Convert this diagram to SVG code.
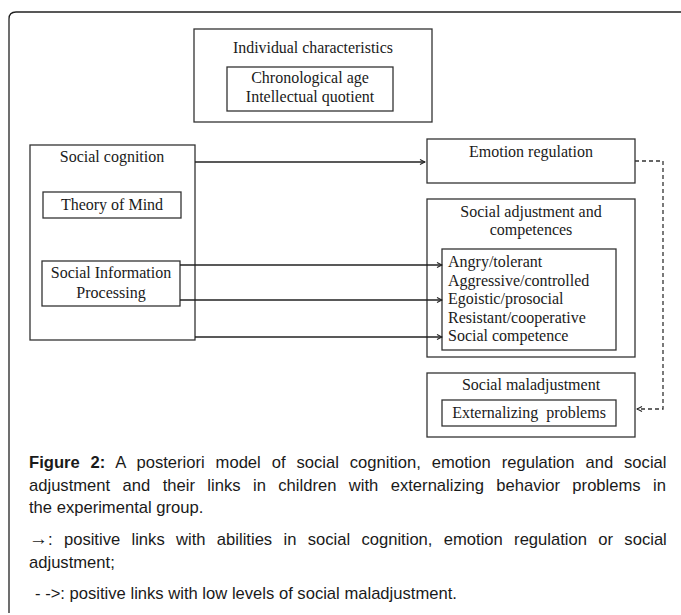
<svg xmlns="http://www.w3.org/2000/svg" width="681" height="615" viewBox="0 0 681 615">
<style>
.box{fill:#fff;stroke:#333;stroke-width:1.3}
.t{font-family:"Liberation Serif","Times New Roman",serif;font-size:16px;fill:#1a1a1a}
.c{text-anchor:middle}
.cap{font-family:"Liberation Sans",Arial,sans-serif;font-size:16.6px;fill:#1a1a1a}
.ln{stroke:#222;stroke-width:1.3;fill:none}
.dash{stroke:#333;stroke-width:1.3;fill:none;stroke-dasharray:4,3}
</style>
<defs>
<marker id="ah" viewBox="0 0 8 8" refX="7" refY="4" markerWidth="8" markerHeight="8" markerUnits="userSpaceOnUse" orient="auto">
<polyline points="2,1.5 7,4 2,6.5" fill="none" stroke="#222" stroke-width="1.1"/>
</marker>
</defs>
<rect width="681" height="615" fill="#fff"/>
<path d="M9,613 V19 Q9,12 16,12 H681" fill="none" stroke="#222" stroke-width="1.3"/>

<g id="individual">
<rect class="box" x="194" y="29" width="238" height="93"/>
<text class="t c" x="313" y="53" textLength="160" lengthAdjust="spacingAndGlyphs">Individual characteristics</text>
<rect class="box" x="227" y="67" width="166" height="44"/>
<text class="t c" x="310" y="83">Chronological age</text>
<text class="t c" x="310" y="102">Intellectual quotient</text>
</g>

<g id="social-cognition">
<rect class="box" x="30" y="145" width="165" height="195"/>
<text class="t c" x="112" y="162">Social cognition</text>
<rect class="box" x="43" y="192" width="138" height="26"/>
<text class="t c" x="112" y="210">Theory of Mind</text>
<rect class="box" x="42" y="261" width="138" height="45"/>
<text class="t c" x="111" y="278">Social Information</text>
<text class="t c" x="111" y="298">Processing</text>
</g>

<g id="emotion-regulation">
<rect class="box" x="427" y="139" width="208" height="44"/>
<text class="t c" x="531" y="157">Emotion regulation</text>
</g>

<g id="social-adjustment">
<rect class="box" x="427" y="199" width="208" height="158"/>
<text class="t c" x="531" y="217">Social adjustment and</text>
<text class="t c" x="531" y="235">competences</text>
<rect class="box" x="442" y="249" width="174" height="101"/>
<text class="t" x="448" y="267">Angry/tolerant</text>
<text class="t" x="448" y="285.5">Aggressive/controlled</text>
<text class="t" x="448" y="304">Egoistic/prosocial</text>
<text class="t" x="448" y="322.5">Resistant/cooperative</text>
<text class="t" x="448" y="341">Social competence</text>
</g>

<g id="social-maladjustment">
<rect class="box" x="427" y="373" width="208" height="64"/>
<text class="t c" x="531" y="390">Social maladjustment</text>
<rect class="box" x="442" y="400" width="174" height="26"/>
<text class="t c" x="529" y="418" xml:space="preserve">Externalizing  problems</text>
</g>

<g id="connectors">
<line class="ln" x1="195" y1="162" x2="425" y2="162" marker-end="url(#ah)"/>
<line class="ln" x1="180" y1="265" x2="442" y2="265" marker-end="url(#ah)"/>
<line class="ln" x1="180" y1="300" x2="442" y2="300" marker-end="url(#ah)"/>
<line class="ln" x1="195" y1="337" x2="442" y2="337" marker-end="url(#ah)"/>
<path class="dash" d="M635,161 H663 V409 H637" marker-end="url(#ah)"/>
</g>

<g id="caption">
<text class="cap" x="29" y="468" word-spacing="6.3"><tspan font-weight="bold">Figure 2:</tspan> A posteriori model of social cognition, emotion regulation and social</text>
<text class="cap" x="29" y="491" word-spacing="7.8">adjustment and their links in children with externalizing behavior problems in</text>
<text class="cap" x="29" y="513">the experimental group.</text>
<text class="cap" x="29" y="545" word-spacing="6.7"><tspan font-size="19">→</tspan>: positive links with abilities in social cognition, emotion regulation or social</text>
<text class="cap" x="29" y="568">adjustment;</text>
<text class="cap" x="35" y="599">- -&gt;: positive links with low levels of social maladjustment.</text>
</g>
</svg>
